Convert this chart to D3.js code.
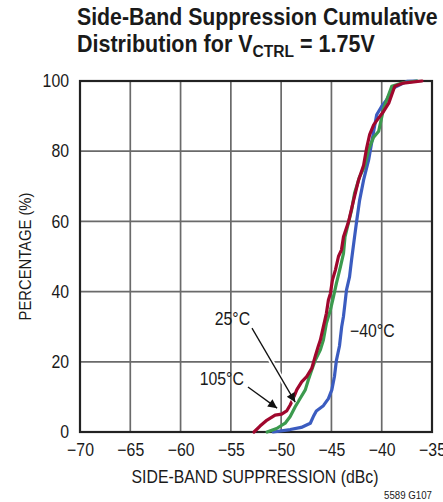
<!DOCTYPE html>
<html><head><meta charset="utf-8">
<script src="https://cdn.jsdelivr.net/npm/d3@7"></script>
<style>
html,body{margin:0;padding:0;background:#fff;}
svg{display:block;}
text{font-family:"Liberation Sans",Arial,sans-serif;fill:#1a1a1a;}
</style></head>
<body>
<svg id="chart" width="443" height="502"></svg>
<script>
// ---- data ----
const xTicks = [-70,-65,-60,-55,-50,-45,-40,-35];
const yTicks = [0,20,40,60,80,100];
const seriesNames = ["-40°C","25°C","105°C"];
// [side-band suppression dBc, cumulative percentage]
const curveM40 = [[-50.8,0],[-49.1,0.7],[-48.0,1.3],[-47.1,2.5],[-46.8,4.4],[-46.5,6.0],[-45.8,7.5],[-45.3,9.5],[-44.96,12],[-44.7,15.8],[-44.5,20.5],[-44.2,24.5],[-43.98,30],[-43.8,33],[-43.65,36.7],[-43.5,40.5],[-43.2,44.2],[-43.0,49],[-42.7,55.6],[-42.5,59.9],[-42.2,66],[-41.8,71.8],[-41.3,77.5],[-40.8,85.7],[-40.5,90.4],[-40.0,92.8],[-39.5,94.7],[-38.85,98],[-37.5,99.9],[-36.5,100]];
const curve25 = [[-51.4,0],[-50.45,1],[-49.6,2.5],[-49.1,4.4],[-48.6,7.2],[-48.1,9.6],[-47.6,12],[-47.3,14.8],[-46.96,17.7],[-46.6,20.5],[-46.1,23.4],[-45.8,26.2],[-45.5,31],[-45.1,34.8],[-44.8,38.5],[-44.5,42.4],[-44.1,47.1],[-43.8,50.9],[-43.65,55.6],[-43.0,63.2],[-42.7,68],[-42.2,72.7],[-41.7,75.7],[-41.3,80.5],[-40.8,84],[-40.3,85.7],[-39.8,92.3],[-39.0,98.5],[-37.9,99.5],[-36.5,100]];
const curve105 = [[-52.7,0],[-52.1,1.7],[-51.4,3.4],[-50.6,4.8],[-49.95,5.1],[-49.45,6.0],[-49.1,7.7],[-48.8,9.5],[-48.45,12],[-47.96,14.3],[-47.46,15.8],[-46.96,18.1],[-46.6,21.7],[-46.3,24.5],[-46.1,26.2],[-45.8,30],[-45.5,33.8],[-45.3,37.6],[-45.1,39.5],[-44.9,43.3],[-44.6,46.2],[-44.3,50],[-44.0,51.9],[-43.8,55.6],[-43.3,59.9],[-42.8,66],[-42.3,71.8],[-41.8,76],[-41.5,80.9],[-41.2,84.7],[-40.8,87.5],[-40.3,89.5],[-39.8,91.4],[-39.3,93.7],[-39.0,96.1],[-38.7,98.5],[-37.85,99.4],[-36.0,100]];
const colors = ["#3b5cc0","#3c9a4e","#a0072d"];
// annotation anchors in data units
const ann25 = {label:"25°C", lx:-56.6, ly:30.5, sx:-52.9, sy:29.6, tx:-48.6, ty:8.5};
const ann105 = {label:"105°C", lx:-58.1, ly:13.4, sx:-53.3, sy:12.8, tx:-50.4, ty:6.8};
const annM40 = {label:"\u221240°C", lx:-43.15, ly:27.1};

// ---- layout ----
const svg = d3.select("#chart");
const L=80, R=432, T=81, B=432;
const x = d3.scaleLinear().domain([-70,-35]).range([L,R]);
const y = d3.scaleLinear().domain([0,100]).range([B,T]);
const SX = 0.88; // horizontal condensing of text

function squeeze(sel, s){
  sel.each(function(){
    const t = d3.select(this);
    const tx = +t.attr("x")||0, ty = +t.attr("y")||0;
    const prev = t.attr("transform")||"";
    t.attr("transform", `${prev} translate(${tx},${ty}) scale(${s},1) translate(${-tx},${-ty})`);
  });
}
function fitWidth(sel, w){
  sel.each(function(){
    const len = this.getComputedTextLength();
    squeeze(d3.select(this), w/len);
  });
}

// title
const t1 = svg.append("text").attr("x",77).attr("y",25)
  .style("font-size","23.5px").style("font-weight","bold").text("Side-Band Suppression Cumulative");
fitWidth(t1, 361);
const t2 = svg.append("text").attr("x",77).attr("y",52)
  .style("font-size","23.5px").style("font-weight","bold");
t2.append("tspan").text("Distribution for V");
t2.append("tspan").text("CTRL").style("font-size","17px").attr("dy",5);
t2.append("tspan").text(" = 1.75V").attr("dy",-5);
fitWidth(t2, 298);

// grid
const g = svg.append("g");
g.selectAll(".vg").data(xTicks.slice(1,-1)).enter().append("line")
  .attr("x1",d=>x(d)).attr("x2",d=>x(d)).attr("y1",T).attr("y2",B)
  .attr("stroke","#6a6a6a").attr("stroke-width",1.7);
g.selectAll(".hg").data(yTicks.slice(1,-1)).enter().append("line")
  .attr("y1",d=>y(d)).attr("y2",d=>y(d)).attr("x1",L).attr("x2",R)
  .attr("stroke","#6a6a6a").attr("stroke-width",1.7);
g.append("rect").attr("x",L).attr("y",T).attr("width",R-L).attr("height",B-T)
  .attr("fill","none").attr("stroke","#222").attr("stroke-width",2.2);

// axes labels via d3 axes
const xAxis = d3.axisBottom(x).tickValues(xTicks).tickSize(0).tickPadding(11)
  .tickFormat(d=>d<0?"\u2212"+Math.abs(d):d);
const xa = svg.append("g").attr("transform",`translate(0,${B})`).call(xAxis);
xa.select(".domain").remove();
xa.selectAll("text").style("font-size","18px").style("font-family",null).attr("fill","#1a1a1a");
squeeze(xa.selectAll("text"), SX);
const yAxis = d3.axisLeft(y).tickValues(yTicks).tickSize(0).tickPadding(11);
const ya = svg.append("g").attr("transform",`translate(${L},0)`).call(yAxis);
ya.select(".domain").remove();
ya.selectAll("text").style("font-size","18px").style("font-family",null).attr("fill","#1a1a1a");
squeeze(ya.selectAll("text"), SX);

const xt = svg.append("text").attr("x",255).attr("y",483).attr("text-anchor","middle")
  .style("font-size","17.5px").text("SIDE-BAND SUPPRESSION (dBc)");
fitWidth(xt, 247);
const ytl = svg.append("text").attr("x",0).attr("y",0)
  .attr("text-anchor","middle").style("font-size","17px").text("PERCENTAGE  (%)");
fitWidth(ytl, 128);
ytl.attr("transform",`translate(31,${(T+B)/2}) rotate(-90) ` + ytl.attr("transform"));
const note = svg.append("text").attr("x",432).attr("y",499).attr("text-anchor","end")
  .style("font-size","11px").text("5589 G107");
squeeze(note, SX);

// curves
const line = d3.line().x(d=>x(d[0])).y(d=>y(d[1]));
[curveM40, curve25, curve105].forEach((c,i)=>{
  svg.append("path").datum(c).attr("d",line).attr("fill","none")
    .attr("stroke",colors[i]).attr("stroke-width",3.2)
    .attr("stroke-linejoin","round").attr("stroke-linecap","round");
});

// annotations
const defs = svg.append("defs");
defs.append("marker").attr("id","ah").attr("viewBox","0 0 10 10").attr("refX",10).attr("refY",5)
  .attr("markerWidth",14).attr("markerHeight",9).attr("markerUnits","userSpaceOnUse").attr("orient","auto")
  .append("path").attr("d","M0,0 L10,5 L0,10 Z").attr("fill","#111");
function lbl(a){
  const t = svg.append("text").attr("x",x(a.lx)).attr("y",y(a.ly)).style("font-size","18px").text(a.label);
  squeeze(t, SX);
}
function arrow(a){
  svg.append("line").attr("x1",x(a.sx)).attr("y1",y(a.sy)).attr("x2",x(a.tx)).attr("y2",y(a.ty))
    .attr("stroke","#fff").attr("stroke-width",5);
  svg.append("line").attr("x1",x(a.sx)).attr("y1",y(a.sy)).attr("x2",x(a.tx)).attr("y2",y(a.ty))
    .attr("stroke","#111").attr("stroke-width",1.3).attr("marker-end","url(#ah)");
  lbl(a);
}
arrow(ann25); arrow(ann105); lbl(annM40);
</script>
</body></html>
